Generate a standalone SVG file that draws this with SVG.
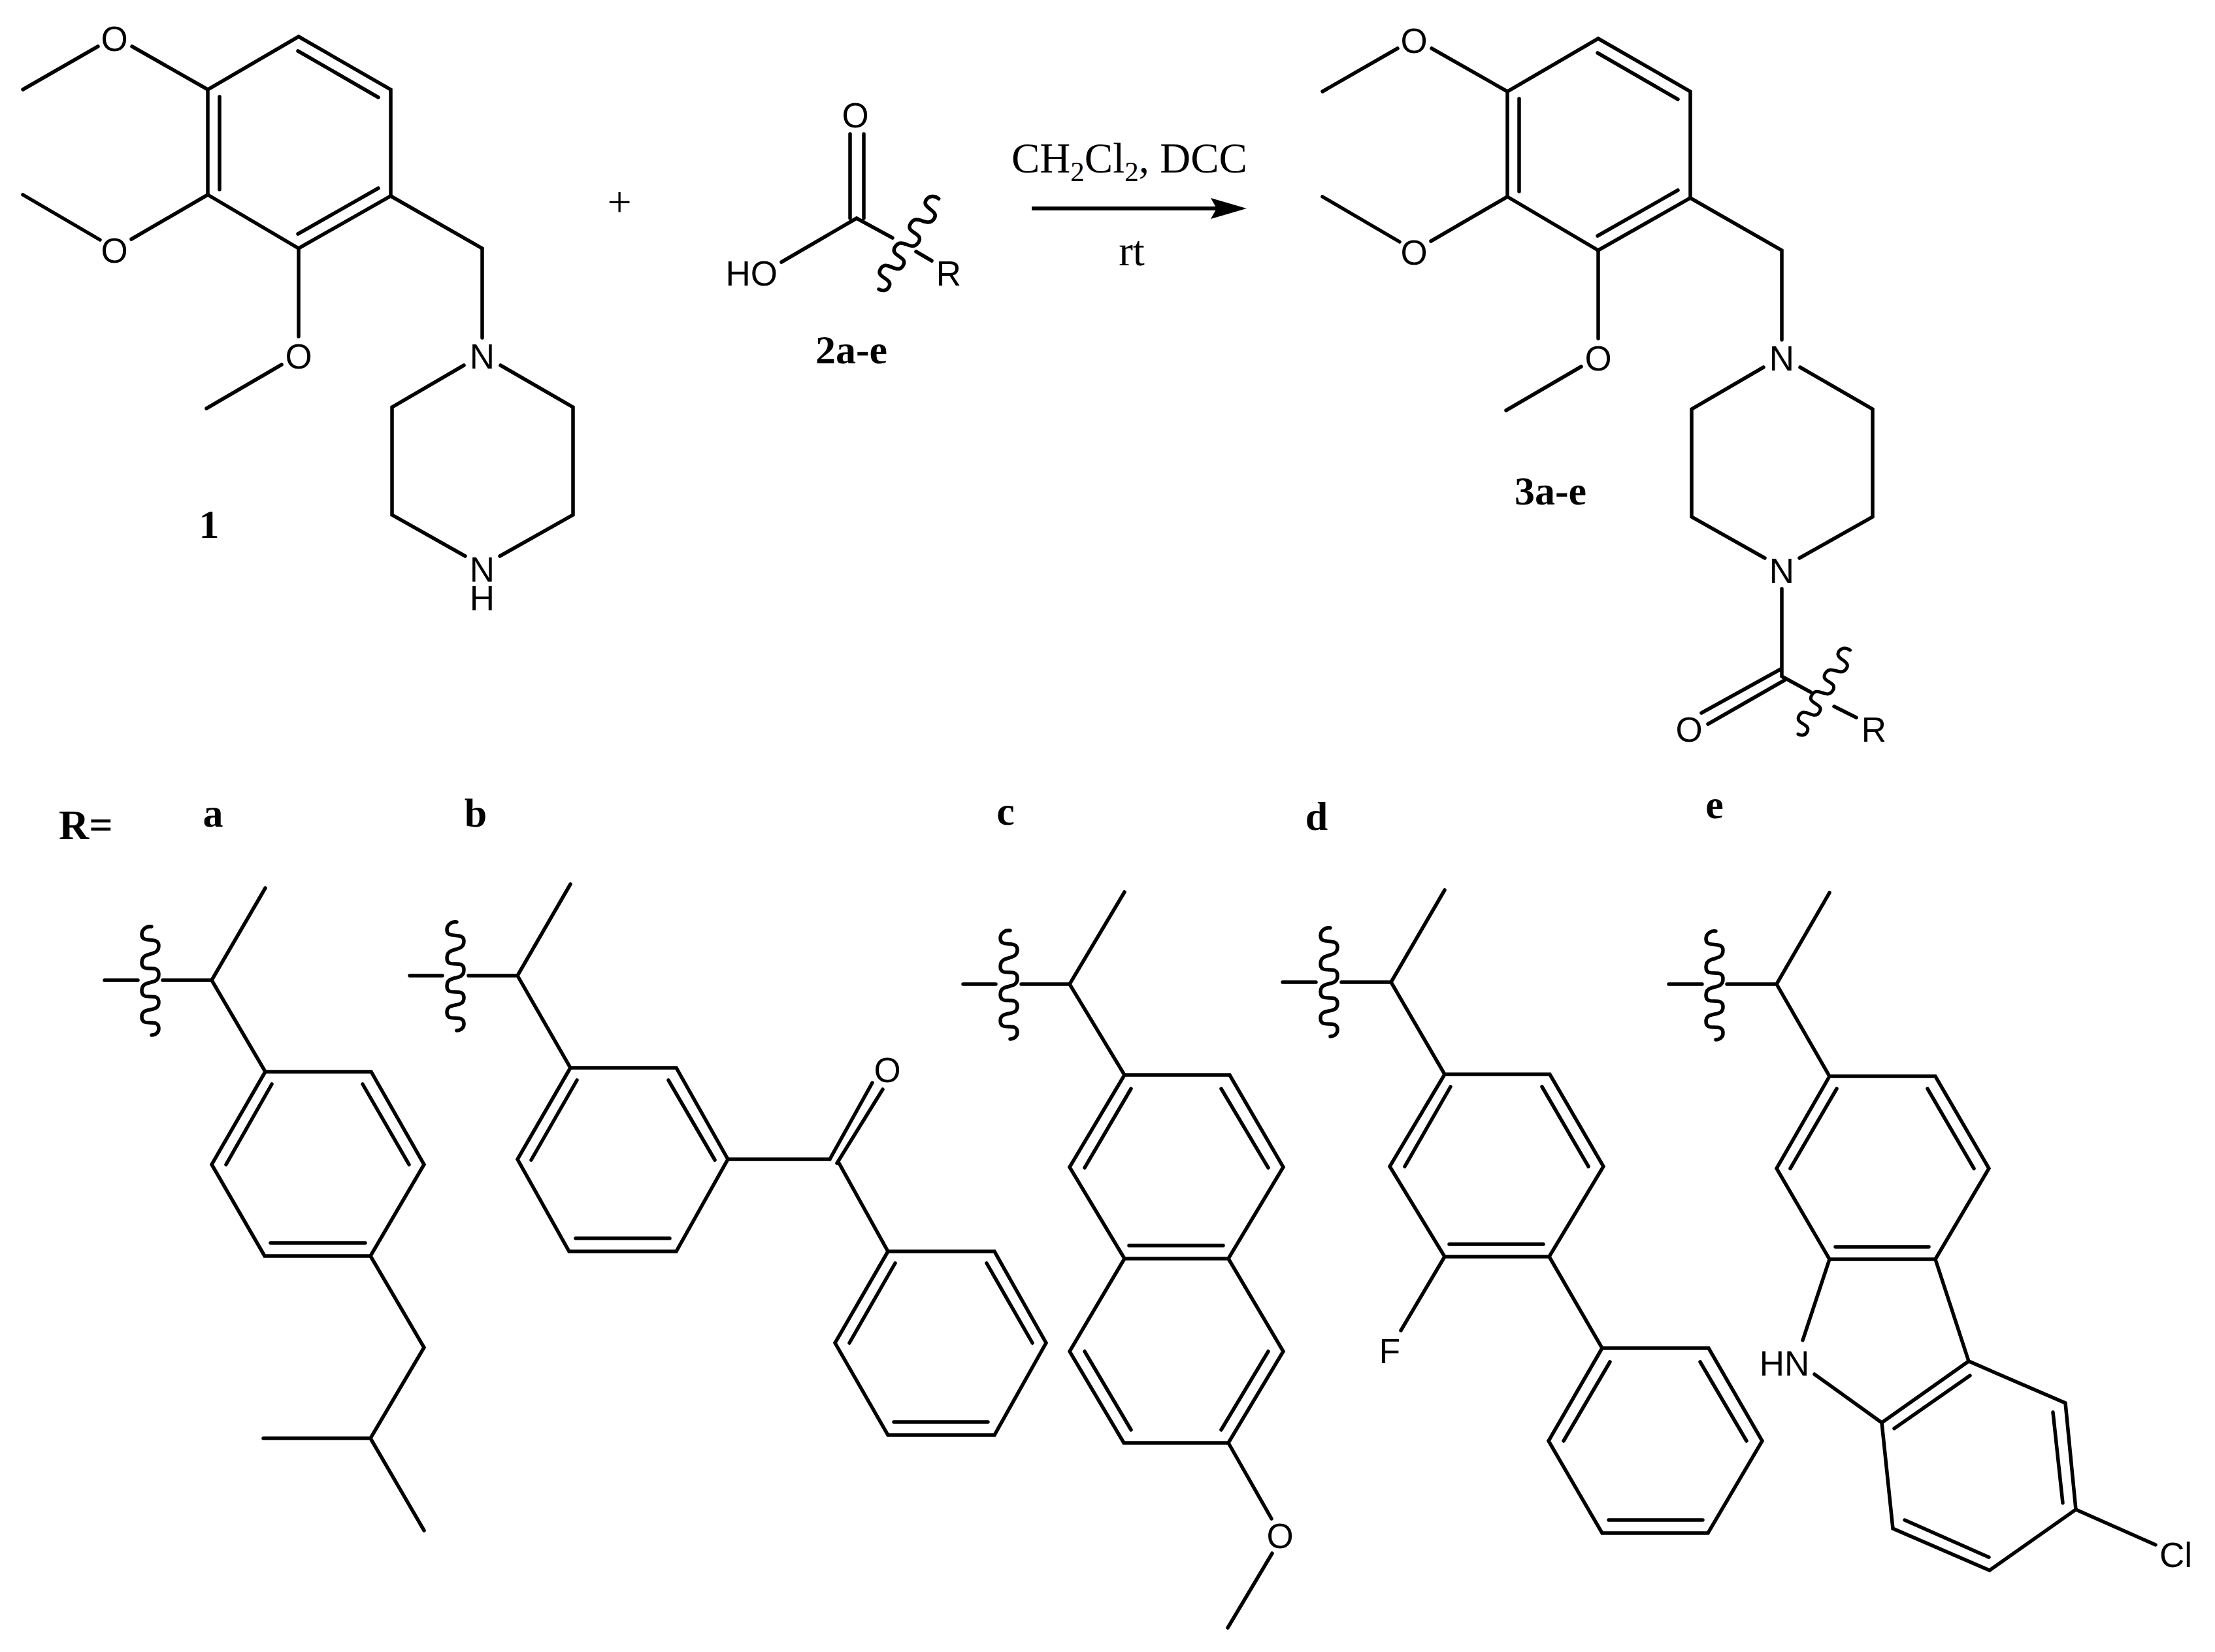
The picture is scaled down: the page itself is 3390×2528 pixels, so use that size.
<svg xmlns="http://www.w3.org/2000/svg" xmlns:xlink="http://www.w3.org/1999/xlink" width="3390" height="2528" viewBox="0 0 3390 2528">
<style>
.b{fill:none;stroke:#000;stroke-width:5.5;stroke-linecap:round;stroke-linejoin:miter}
.a{font-family:"Liberation Sans",Arial,sans-serif;font-size:53px;text-anchor:middle;fill:#000}
.t{font-family:"Liberation Serif","Times New Roman",serif;fill:#000}
.l{font-family:"Liberation Serif","Times New Roman",serif;font-weight:bold;font-size:62px;text-anchor:middle;fill:#000}
</style>
<defs>
<path id="wave" class="b" d="M2 0C-6 -1 -13 4 -13 12C-13 27 13 14 13 29C13 48 -13 36 -13 55C-13 73 13 55 13 73C13 92 -13 79 -13 98C-13 116 13 98 13 116C13 133 -13 121 -13 138C-13 156 13 138 13 156C13 162 8 166 2 166"/>
<g id="trimethoxybenzyl">
<path class="b" d="M457 56L598 137V300L457 380L318 298V137Z"/>
<path class="b" d="M456 78L579 149M336 148V290M579 288L456 358"/>
<path class="b" d="M318 137L202 71M150 71L35 137M318 298L201 366M153 367L35 298M457 380V515M431 558L316 625"/>
<path class="b" d="M598 300L738 380V517M710 559L600 623V788L712 851M766 559L877 623V788L765 851"/>
<text class="a" x="175" y="78">O</text>
<text class="a" x="175" y="402">O</text>
<text class="a" x="457" y="564">O</text>
<text class="a" x="738" y="564">N</text>
</g>
</defs>
<g id="compound-1">
<use xlink:href="#trimethoxybenzyl" href="#trimethoxybenzyl"/>
<text class="a" x="738" y="890">N<tspan x="738" dy="44">H</tspan></text>
<text class="l" x="320" y="823">1</text>
</g>
<g id="plus"><text class="t" x="948" y="331" font-size="66" text-anchor="middle">+</text></g>
<g id="compound-2">
<path class="b" d="M1301 205V334M1322 205V334M1311 334L1196 401M1311 334L1366 364M1402 385L1426 399"/>
<use xlink:href="#wave" href="#wave" transform="translate(1435 303) rotate(33.5)"/>
<text class="a" x="1309" y="195">O</text>
<text class="a" x="1190" y="437" style="text-anchor:end">HO</text>
<text class="a" x="1452" y="437">R</text>
<text class="l" x="1303" y="556">2a-e</text>
</g>
<g id="connectors">
<path d="M1579 319H1865" fill="none" stroke="#000" stroke-width="6"/>
<polygon points="1908,319 1853,303 1862,319 1853,335" fill="#000"/>
</g>
<g id="reaction-conditions">
<text class="t" x="1548" y="264" font-size="65">CH<tspan font-size="43" dy="13">2</tspan><tspan dy="-13">Cl</tspan><tspan font-size="43" dy="13">2</tspan><tspan dy="-13">, DCC</tspan></text>
<text class="t" x="1732" y="406" font-size="65" text-anchor="middle">rt</text>
</g>
<g id="compound-3">
<use xlink:href="#trimethoxybenzyl" href="#trimethoxybenzyl" transform="translate(1989 3)"/>
<text class="a" x="2727" y="892">N</text>
<path class="b" d="M2727 901V1033M2727 1023L2604 1091M2731 1041L2614 1108M2727 1035L2771 1059M2807 1081L2841 1098"/>
<use xlink:href="#wave" href="#wave" transform="translate(2830 994) rotate(31.8) scale(.91)"/>
<text class="a" x="2585" y="1135">O</text>
<text class="a" x="2868" y="1135">R</text>
<text class="l" x="2373" y="772">3a-e</text>
</g>
<g id="r-label"><text class="l" x="90" y="1284" style="text-anchor:start;font-size:64px">R=</text></g>
<g id="r-a">
<text class="l" x="326" y="1265">a</text>
<path class="b" d="M160 1500H211M249 1500H324L406 1359M324 1500L406 1640H568L649 1782L567 1922H405L324 1782L406 1640"/>
<path class="b" d="M416 1659L346 1782M555 1659L626 1782M414 1902H559"/>
<path class="b" d="M567 1922L649 2062L567 2201H403M567 2201L649 2342"/>
<use xlink:href="#wave" href="#wave" transform="translate(230 1418)"/>
</g>
<g id="r-b">
<text class="l" x="728" y="1265">b</text>
<path class="b" d="M627 1493H677M717 1493H792L873 1353M792 1493L873 1634H1035L1114 1774L1035 1915H871L792 1774L873 1634"/>
<path class="b" d="M883 1653L813 1775M1023 1653L1094 1775M881 1895H1025"/>
<path class="b" d="M1114 1774H1270M1270 1774L1335 1657M1281 1780L1351 1667M1283 1778L1359 1915H1522L1601 2055L1522 2196H1359L1278 2055L1359 1915"/>
<path class="b" d="M1370 1933L1300 2055M1510 1933L1580 2055M1368 2176H1512"/>
<use xlink:href="#wave" href="#wave" transform="translate(697 1411)"/>
<text class="a" x="1358" y="1656">O</text>
</g>
<g id="r-c">
<text class="l" x="1539" y="1262">c</text>
<path class="b" d="M1474 1506H1524M1563 1506H1637L1721 1365M1637 1506L1721 1645H1882L1964 1786L1880 1926H1721L1637 1786L1721 1645"/>
<path class="b" d="M1721 1926L1637 2068L1720 2208H1880L1964 2068L1880 1926"/>
<path class="b" d="M1731 1666L1660 1787M1869 1666L1941 1787M1728 1906H1872M1660 2068L1731 2188M1941 2068L1869 2188"/>
<path class="b" d="M1880 2208L1946 2324M1947 2377L1879 2491"/>
<use xlink:href="#wave" href="#wave" transform="translate(1544 1424)"/>
<text class="a" x="1959" y="2369">O</text>
</g>
<g id="r-d">
<text class="l" x="2015" y="1270">d</text>
<path class="b" d="M1963 1503H2014M2053 1503H2129L2211 1362M2129 1503L2211 1644H2372L2454 1785L2371 1923H2211L2127 1785L2211 1644"/>
<path class="b" d="M2220 1663L2150 1785M2360 1663L2431 1785M2218 1904H2362"/>
<path class="b" d="M2211 1923L2144 2036M2371 1923L2452 2063H2615L2697 2205L2614 2346H2452L2370 2205L2452 2063"/>
<path class="b" d="M2464 2084L2393 2205M2602 2084L2673 2205M2462 2326H2606"/>
<use xlink:href="#wave" href="#wave" transform="translate(2034 1420)"/>
<text class="a" x="2127" y="2086">F</text>
</g>
<g id="r-e">
<text class="l" x="2624" y="1252">e</text>
<path class="b" d="M2554 1506H2605M2643 1506H2719L2800 1366M2719 1506L2800 1647H2962L3044 1788L2962 1927H2800L2719 1788L2800 1647"/>
<path class="b" d="M2811 1666L2740 1788M2950 1666L3021 1788M2809 1908H2952"/>
<path class="b" d="M2800 1927L2759 2051M2962 1927L3013 2083M2777 2103L2880 2177L3013 2083L3161 2147L3177 2310L3045 2403L2897 2339L2880 2177"/>
<path class="b" d="M2899 2186L3015 2105M3142 2161L3157 2300M2915 2326L3044 2383M3177 2310L3299 2364"/>
<use xlink:href="#wave" href="#wave" transform="translate(2624 1425)"/>
<text class="a" x="2731" y="2105">HN</text>
<text class="a" x="3330" y="2398">Cl</text>
</g>
</svg>
